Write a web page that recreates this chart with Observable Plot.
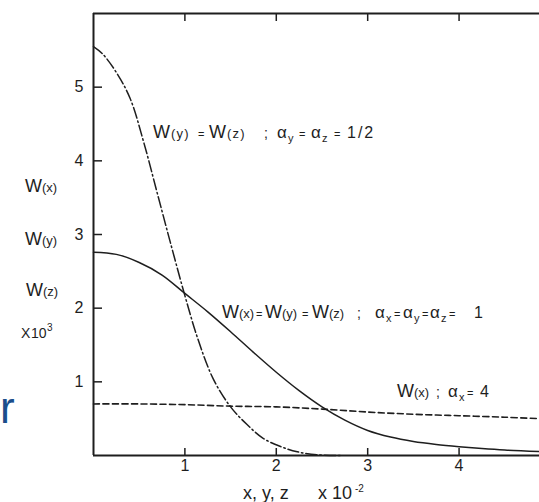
<!DOCTYPE html>
<html>
<head>
<meta charset="utf-8">
<script src="https://cdn.jsdelivr.net/npm/d3@7"></script>
<script src="https://cdn.jsdelivr.net/npm/@observablehq/plot@0.6"></script>
<style>
  html, body { margin: 0; padding: 0; background: #fff; overflow: hidden; }
  svg { display: block; }
</style>
</head>
<body>
<div id="chart"></div>
<script>
// ---- data ----
const xTicks = [1, 2, 3, 4];
const yTicks = [1, 2, 3, 4, 5];

// W(x)=W(y)=W(z); alpha = 1  (solid)
const solidX = [0, 0.25, 0.5, 0.75, 1.0, 1.25, 1.5, 1.75, 2.0, 2.25, 2.5, 2.75, 3.0, 3.25, 3.5, 3.75, 4.0, 4.25, 4.5, 4.88];
const solidY = [2.76, 2.73, 2.62, 2.45, 2.20, 1.95, 1.68, 1.40, 1.13, 0.88, 0.66, 0.48, 0.34, 0.25, 0.19, 0.15, 0.12, 0.095, 0.075, 0.055];

// W(y)=W(z); alpha = 1/2  (dash-dot)
const halfX = [0, 0.1, 0.25, 0.4, 0.55, 0.7, 0.85, 1.0, 1.14, 1.31, 1.5, 1.68, 1.86, 2.05, 2.23, 2.45, 2.7];
const halfY = [5.55, 5.45, 5.20, 4.85, 4.25, 3.55, 2.85, 2.17, 1.59, 1.04, 0.66, 0.42, 0.23, 0.12, 0.05, 0.01, 0.0];

// W(x); alpha = 4  (dashed)
const fourX = [0, 0.5, 1, 1.5, 2, 2.5, 3, 3.5, 4, 4.5, 4.88];
const fourY = [0.70, 0.70, 0.69, 0.67, 0.66, 0.63, 0.59, 0.56, 0.54, 0.52, 0.50];

const toRows = (xs, ys) => xs.map((x, i) => ({x, y: ys[i]}));
const solid = toRows(solidX, solidY);
const half = toRows(halfX, halfY);
const four = toRows(fourX, fourY);

const FONT = "'Liberation Sans', Arial, sans-serif";
const INK = "#1e1e1e";

const chart = Plot.plot({
  width: 539,
  height: 502,
  marginLeft: 93,
  marginRight: 0,
  marginTop: 13,
  marginBottom: 47,
  x: {domain: [0, 4.88]},
  y: {domain: [0, 6]},
  style: {fontFamily: FONT, fontSize: "16px", color: INK, background: "#fff"},
  marks: [
    Plot.axisY({ticks: yTicks, tickSize: 0, tickPadding: 10, tickFormat: d => String(d), label: null, fontSize: 16}),
    Plot.axisY({ticks: yTicks, tickSize: -9, tickFormat: () => "", label: null, strokeWidth: 1.5}),
    Plot.axisX({ticks: xTicks, tickSize: 0, tickPadding: 4, tickFormat: d => String(d), label: null, fontSize: 16}),
    Plot.axisX({ticks: xTicks, tickSize: -7, tickFormat: () => "", label: null, strokeWidth: 1.5}),
    Plot.axisX({anchor: "top", ticks: xTicks, tickSize: -7, tickFormat: () => "", label: null, strokeWidth: 1.5}),
    Plot.ruleX([0], {stroke: INK, strokeWidth: 2}),
    Plot.ruleY([0], {stroke: INK, strokeWidth: 1.8}),
    Plot.ruleY([6], {stroke: INK, strokeWidth: 1.8}),
    Plot.line(four, {x: "x", y: "y", curve: "catmull-rom", stroke: INK, strokeWidth: 1.6, strokeDasharray: "6,3.5"}),
    Plot.line(half, {x: "x", y: "y", curve: "catmull-rom", stroke: INK, strokeWidth: 1.5, strokeDasharray: "11,3,1.5,3"}),
    Plot.line(solid, {x: "x", y: "y", curve: "catmull-rom", stroke: INK, strokeWidth: 1.5})
  ]
});
document.getElementById("chart").appendChild(chart);

// ---- annotations with mixed sizes / subscripts ----
const svg = d3.select(chart);
const sizes = {W: 18, p: 13, n: 14, e: 11, a: 17, sub: 11, sup: 10, X: 14, t: 18, f: 16};
function richText(y, parts, fill = INK) {
  const t = svg.append("text")
    .attr("y", y)
    .attr("fill", fill)
    .attr("font-family", FONT)
    .attr("text-anchor", "start")
    .style("white-space", "pre");
  let shift = 0;
  for (const [s, kind, x, ls] of parts) {
    const target = kind === "sub" ? 4 : kind === "sup" ? -7 : 0;
    const ts = t.append("tspan")
      .attr("font-size", sizes[kind])
      .attr("dy", target - shift)
      .text(s);
    if (x != null) ts.attr("x", x);
    if (ls) ts.attr("letter-spacing", ls);
    shift = target;
  }
}

// curve labels
richText(138, [["W","W",153],["(y)","p",171,1.2],["=","e",198],["W","W",209],["(z)","p",227,1.2],[";","n",264],
  ["α","a",277],["y","sub",288],["=","e",299],["α","a",311],["z","sub",322],["=","e",334],["1/2","f",347,2]]);
richText(318, [["W","W",222],["(x)","p",239],["=","e",256],["W","W",265],["(y)","p",282],["=","e",302],
  ["W","W",312],["(z)","p",329],[";","n",357],
  ["α","a",375],["x","sub",386],["=","e",394],["α","a",403],["y","sub",414],["=","e",422],
  ["α","a",430],["z","sub",441],["=","e",449],["1","f",474]]);
richText(397, [["W","W",397],["(x)","p",414],[";","n",436],["α","a",448],["x","sub",459],["=","e",467],["4","f",480]]);

// y-axis title stack
richText(192, [["W","W",25],["(x)","p",42]]);
richText(245, [["W","W",25],["(y)","p",42]]);
richText(296, [["W","W",26],["(z)","p",43]]);
richText(338, [["X","X",21],["10","X",31],["3","sup",47]]);

// x-axis title
richText(499, [["x, y, z","t",243],["x","t",318],["10","t",332],["-2","sup",355]]);

// slide letter at the left edge
svg.append("text").attr("x", 0).attr("y", 423).attr("text-anchor", "start")
  .attr("font-family", FONT).attr("font-size", 44).attr("fill", "#1b4e8b").text("r");
</script>
</body>
</html>
